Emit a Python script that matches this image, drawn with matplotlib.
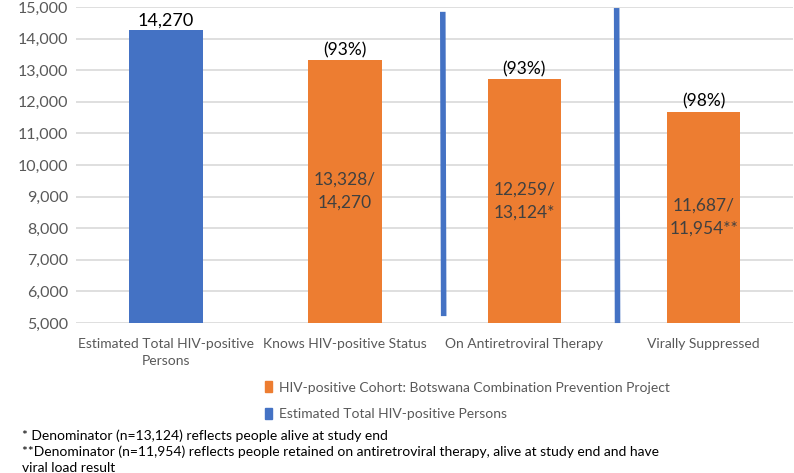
import matplotlib.pyplot as plt
from matplotlib.patches import Patch

plt.rcParams['font.family'] = ['Lato', 'DejaVu Sans']

categories = ['Estimated Total HIV-positive\nPersons', 'Knows HIV-positive Status',
              'On Antiretroviral Therapy', 'Virally Suppressed']
values = [14270, 13328, 12720, 11687]
bar_colors = ['#4472C4', '#ED7D31', '#ED7D31', '#ED7D31']
top_labels = ['14,270', '(93%)', '(93%)', '(98%)']
inner_labels = ['', '13,328/\n14,270', '12,259/\n13,124*', '11,687/\n11,954**']
# separator strokes (x top, x bottom, y top, y bottom)
separators = [(1.545, 1.55, 14850, 5220), (2.515, 2.52, 14970, 5000)]

footnotes = ['* Denominator (n=13,124) reflects people alive at study end',
             '**Denominator (n=11,954) reflects people retained on antiretroviral therapy, alive at study end and have',
             'viral load result']

fig = plt.figure(figsize=(7.94, 4.73), dpi=100)
ax = fig.add_axes([0.096, 0.317, 0.903, 0.668])

x = range(len(categories))
ax.bar(x, values, width=0.41, color=bar_colors, zorder=2)
ax.set_ylim(5000, 15000)
ax.set_xlim(-0.5, 3.5)
ax.set_yticks(range(5000, 15001, 1000))
ax.set_yticklabels([f'{v:,}' for v in range(5000, 15001, 1000)], fontsize=11.5, color='#595959')
ax.set_xticks(list(x))
ax.set_xticklabels(categories, fontsize=10, color='#595959', linespacing=1.5)
ax.tick_params(length=0, pad=6)
ax.tick_params(axis='x', pad=11)
ax.grid(axis='y', color='#d9d9d9', linewidth=1.2, zorder=0)
for s in ax.spines.values():
    s.set_visible(False)

for i, v in enumerate(values):
    size = 13 if i == 0 else 12.5
    ax.text(i, v + 60, top_labels[i], ha='center', va='bottom', fontsize=size, color='black')
    if inner_labels[i]:
        ax.text(i, (v + 5000) / 2, inner_labels[i], ha='center', va='center',
                fontsize=12.5, color='#404040', linespacing=1.55)

for x0, x1, y0, y1 in separators:
    ax.plot([x0, x1], [y0, y1], color='#4472C4', linewidth=4, solid_capstyle='butt',
            clip_on=False, zorder=3)

handles = [Patch(color='#ED7D31', label='HIV-positive Cohort: Botswana Combination Prevention Project'),
           Patch(color='#4472C4', label='Estimated Total HIV-positive Persons')]
fig.legend(handles=handles, loc='upper left', bbox_to_anchor=(0.318, 0.22), frameon=False,
           fontsize=10, labelcolor='#595959', handlelength=0.5, handleheight=0.8,
           handletextpad=0.5, labelspacing=1.05)

for k, t in enumerate(footnotes):
    fig.text(0.028, 0.078 - k * 0.034, t, fontsize=10, color='black', va='center')

plt.savefig('out.png', dpi=100)
